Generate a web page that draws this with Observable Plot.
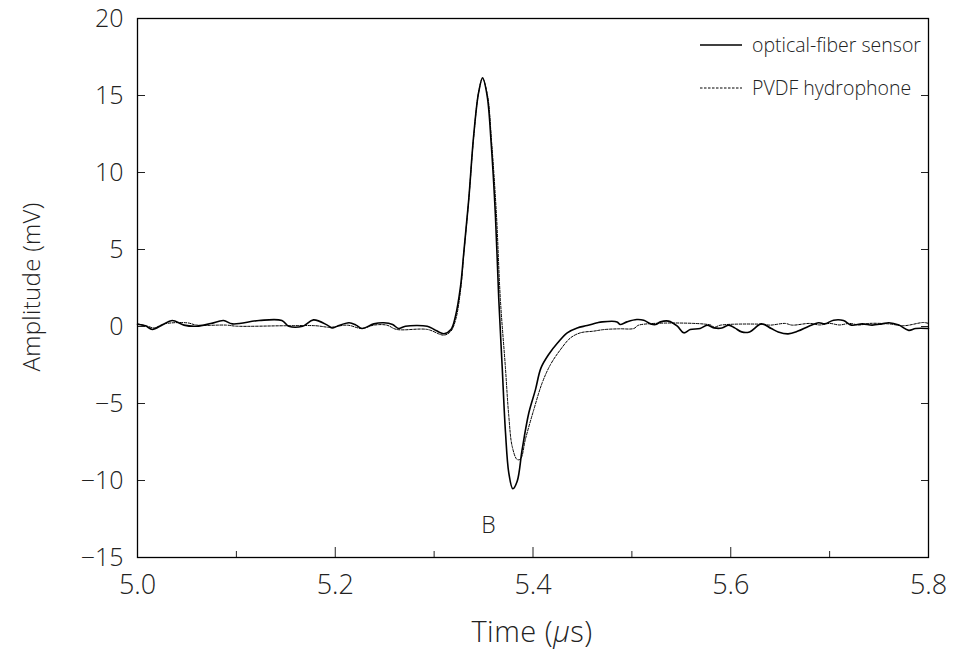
<!DOCTYPE html>
<html><head><meta charset="utf-8">
<script src="https://cdn.jsdelivr.net/npm/d3@7"></script>
<script src="https://cdn.jsdelivr.net/npm/@observablehq/plot@0.6"></script>
<style>
body{margin:0;background:#fff;}
#wrap{position:relative;width:953px;height:654px;font-family:"Open Sans","Liberation Sans",Arial,sans-serif;font-weight:300;color:#222;}
#ytitle{position:absolute;left:30px;top:287px;transform:translate(-50%,-50%) rotate(-90deg);font-size:24px;white-space:nowrap;letter-spacing:0.3px;}
#xtitle{position:absolute;left:532px;top:630px;transform:translate(-50%,-50%);font-size:29px;white-space:nowrap;letter-spacing:0.5px;}
#legend{position:absolute;left:0;top:0;pointer-events:none;}
</style></head><body>
<div id="wrap"><div id="ytitle">Amplitude (mV)</div><div id="xtitle">Time (<i>μ</i>s)</div></div>
<script>
// optical-fiber sensor (solid)
const fiberT=[5.000,5.008,5.015,5.025,5.035,5.047,5.060,5.074,5.087,5.096,5.123,5.146,5.153,5.167,5.178,5.192,5.197,5.202,5.214,5.221,5.227,5.239,5.249,5.258,5.264,5.271,5.293,5.300,5.310,5.317,5.3216,5.3267,5.330,5.335,5.340,5.345,5.349,5.3537,5.3577,5.362,5.3654,5.3688,5.3722,5.3755,5.3796,5.384,5.389,5.3958,5.4025,5.408,5.416,5.425,5.4346,5.4447,5.4548,5.465,5.470,5.485,5.488,5.495,5.505,5.512,5.519,5.524,5.529,5.537,5.546,5.5525,5.559,5.569,5.576,5.583,5.591,5.598,5.604,5.611,5.619,5.631,5.641,5.648,5.658,5.668,5.679,5.689,5.695,5.704,5.714,5.722,5.733,5.743,5.753,5.760,5.770,5.780,5.787,5.800];
const fiberA=[0.15,0.05,-0.19,0.10,0.39,0.09,0.02,0.19,0.39,0.17,0.39,0.39,0.02,0.02,0.43,0.09,-0.10,0.02,0.24,0.09,-0.13,0.17,0.24,0.13,-0.13,0.02,0.02,-0.19,-0.47,-0.20,0.67,2.6,4.8,8.25,12.4,15.2,16.15,14.95,11.9,7.2,1.75,-2.58,-6.9,-9.5,-10.54,-10.05,-8.0,-5.6,-4.1,-2.7,-1.8,-1.06,-0.41,-0.09,0.06,0.24,0.30,0.30,0.13,0.30,0.45,0.40,0.17,0.13,0.30,0.35,0.02,-0.41,-0.20,-0.13,0.08,-0.09,-0.10,0.09,-0.09,-0.35,-0.35,0.17,-0.13,-0.35,-0.48,-0.30,0.02,0.24,0.17,0.41,0.39,0.09,0.17,0.09,0.17,0.24,0.09,-0.25,-0.13,-0.13];
// PVDF hydrophone (dashed)
const pvdfT=[5.000,5.010,5.017,5.027,5.050,5.060,5.090,5.100,5.150,5.180,5.195,5.212,5.227,5.239,5.252,5.262,5.293,5.310,5.317,5.322,5.327,5.330,5.335,5.340,5.345,5.349,5.354,5.358,5.363,5.367,5.372,5.3755,5.379,5.384,5.3874,5.3924,5.4008,5.4093,5.4177,5.4278,5.4379,5.448,5.4615,5.4716,5.487,5.502,5.507,5.580,5.583,5.590,5.630,5.640,5.655,5.662,5.680,5.690,5.700,5.710,5.720,5.730,5.740,5.760,5.775,5.795,5.800];
const pvdfA=[0.17,0.02,-0.09,0.17,0.24,0.09,0.09,0.02,0.05,0.05,-0.05,0.09,-0.13,0.09,0.09,-0.19,-0.19,-0.56,-0.30,0.5,2.5,4.7,8.2,12.3,15.2,16.1,15.0,12.1,7.3,1.75,-2.58,-5.8,-7.8,-8.64,-8.6,-7.3,-5.4,-3.66,-2.47,-1.5,-0.74,-0.41,-0.30,-0.20,-0.15,-0.13,0.09,0.09,-0.05,0.09,0.15,0.09,0.20,0.09,0.20,0.10,0.20,0.10,0.20,0.10,0.20,0.17,0.05,0.26,0.20];
const xMajor=[5.0,5.2,5.4,5.6,5.8];
const xMinor=[5.1,5.3,5.5,5.7];
const yTicks=[-15,-10,-5,0,5,10,15,20];
const seriesNames=["optical-fiber sensor","PVDF hydrophone"];
const notes=[{t:5.355,a:-12.9,text:"B"}];

const fiber=fiberT.map((t,i)=>({t,a:fiberA[i]}));
const pvdf=pvdfT.map((t,i)=>({t,a:pvdfA[i]}));
const FONT='"Open Sans","Liberation Sans",Arial,sans-serif';
const W=953,H=654,ML=137,MR=25,MT=18,MB=97;

const chart=Plot.plot({
  width:W,height:H,marginLeft:ML,marginRight:MR,marginTop:MT,marginBottom:MB,
  style:{fontFamily:FONT,fontSize:"24px",fontWeight:300,color:"#222",background:"white",overflow:"visible"},
  x:{domain:[5,5.8]},
  y:{domain:[-15,20]},
  marks:[
    Plot.axisX(xMajor,{anchor:"bottom",tickSize:-10,tickPadding:27,tickFormat:d3.format(".1f"),label:null,fontSize:27}),
    Plot.axisX(xMinor,{anchor:"bottom",tickSize:-6,tickFormat:()=>"",label:null}),
    Plot.axisY(yTicks,{anchor:"left",tickSize:-8,tickPadding:22,label:null,fontSize:25}),
    Plot.axisY(yTicks,{anchor:"right",tickSize:-8,tickFormat:()=>"",label:null}),
    Plot.line(pvdf,{x:"t",y:"a",stroke:"#000",strokeWidth:1,strokeDasharray:"2.5,1.5",curve:"catmull-rom"}),
    Plot.line(fiber,{x:"t",y:"a",stroke:"#000",strokeWidth:1.6,curve:"catmull-rom"}),
    Plot.text(notes,{x:"t",y:"a",text:"text",fontSize:23,fill:"#222"}),
    Plot.frame({stroke:"#000",strokeWidth:1.3})
  ]
});
const wrap=document.getElementById("wrap");
wrap.insertBefore(chart,wrap.firstChild);

// legend
const svg=d3.select(wrap).append("svg").attr("id","legend").attr("width",W).attr("height",H);
const styles=[{dash:null,w:1.6},{dash:"2.5,1.5",w:1}];
seriesNames.forEach((name,i)=>{
  const y=45+i*43;
  svg.append("line").attr("x1",700).attr("x2",742).attr("y1",y).attr("y2",y)
    .attr("stroke","#000").attr("stroke-width",styles[i].w).attr("stroke-dasharray",styles[i].dash);
  svg.append("text").attr("x",752).attr("y",y).attr("dy","0.35em")
    .attr("font-family",FONT).attr("font-weight",300).attr("font-size",19.5).attr("fill","#222").text(name);
});
</script>
</body></html>
